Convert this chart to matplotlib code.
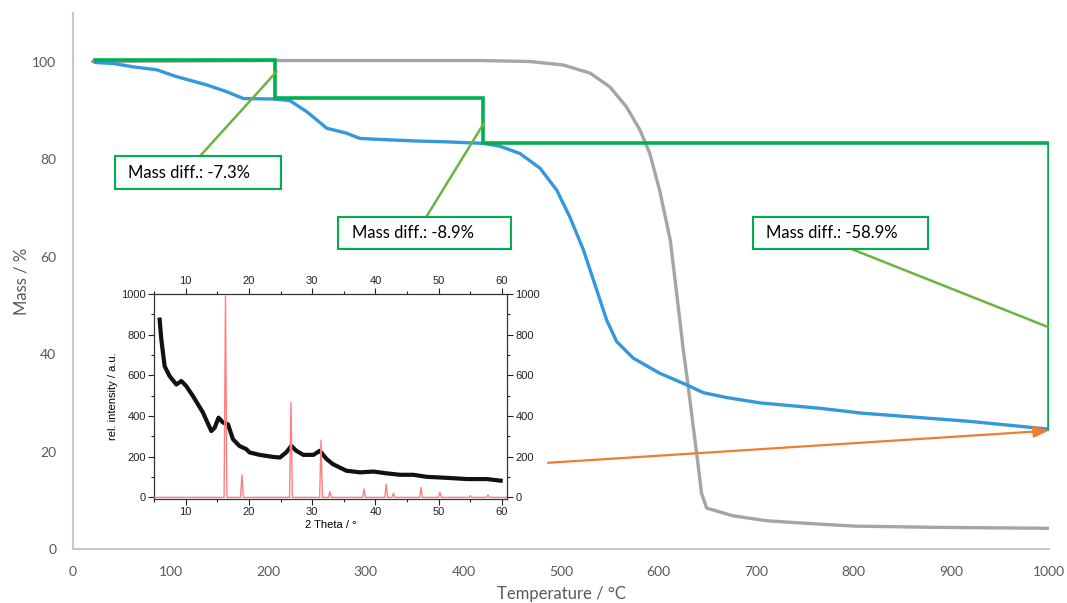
import matplotlib
matplotlib.use("Agg")
import matplotlib.pyplot as plt
from matplotlib.patches import Rectangle
from matplotlib.ticker import MultipleLocator

# ---------------- main TGA data ----------------
temp_sample = [22.5, 41.3, 61.8, 85.8, 106, 137, 157.5, 174.5, 205, 222, 239.5, 260, 280, 294,
               314.5, 348.7, 383, 420, 437.5, 458, 478.5, 495.6, 509, 523, 536.6, 546.8, 557,
               574, 601, 628.8, 645.8, 669.7, 704, 765, 808, 919, 960, 1000]
mass_sample = [99.9, 99.7, 99.0, 98.4, 97.0, 95.3, 93.9, 92.5, 92.4, 92.1, 89.8, 86.4, 85.4, 84.3,
               84.1, 83.8, 83.6, 83.3, 82.7, 81.2, 78.2, 73.7, 68.2, 61.4, 53.2, 47.0, 42.6,
               39.2, 36.1, 33.7, 32.1, 31.1, 30.0, 28.9, 27.9, 26.2, 25.4, 24.6]

temp_ref = [20, 200, 417, 468, 502, 530, 550, 567, 581, 591, 601, 612, 618.5, 625.3, 630.4,
            635.5, 640.7, 644, 649.3, 676.5, 710.7, 765, 801, 882, 1000]
mass_ref = [100.1, 100.3, 100.3, 100.1, 99.4, 97.7, 94.9, 90.8, 86.0, 81.2, 73.7, 63.4, 52.5,
            40.9, 33.3, 25.1, 16.9, 11.4, 8.4, 6.8, 5.8, 5.1, 4.7, 4.45, 4.25]

# step annotation levels
step_temps = [23, 207, 420, 1000]
step_levels = [100.4, 92.6, 83.4, 24.6]
diff_labels = ["Mass diff.: -7.3%", "Mass diff.: -8.9%", "Mass diff.: -58.9%"]

# ---------------- inset XRD data ----------------
theta_meas = [5.89, 6.16, 6.68, 7.47, 8.53, 9.32, 10.1, 11.16, 12.74, 14.06, 14.6, 15.2, 15.9,
              16.7, 17.48, 18.5, 19.6, 20.1, 21.7, 23.8, 24.9, 25.9, 26.7, 27.5, 28.6, 30.2,
              31.2, 32.3, 33.3, 35.4, 37.6, 39.7, 41.8, 43.9, 46.0, 48.1, 51.3, 54.5, 57.6, 59.8]
int_meas = [874, 776, 645, 596, 555, 572, 547, 498, 417, 326, 343, 392, 368,
            359, 286, 253, 237, 221, 209, 199, 196, 221, 253, 229, 209, 209,
            229, 188, 163, 131, 123, 127, 118, 111, 111, 101, 96, 90, 90, 82]

ref_peaks = [16.3, 18.9, 26.65, 31.4, 32.8, 38.2, 41.7, 42.85, 47.2, 50.2, 55.0, 57.8]
ref_heights = [990, 111, 466, 281, 28, 41, 65, 20, 49, 25, 8, 12]

# ---------------- figure ----------------
W, H = 1067, 603
fig = plt.figure(figsize=(W / 100, H / 100), dpi=100)
main_font = "Lato"
grey_txt = "#595959"

ax = fig.add_axes([73 / W, 1 - 549 / H, (1049 - 73) / W, (549 - 13.3) / H])
ax.set_xlim(0, 1000)
ax.set_ylim(0, 110)
ax.set_xticks(range(0, 1001, 100))
ax.set_yticks(range(0, 101, 20))
for s in ["top", "right"]:
    ax.spines[s].set_visible(False)
for s in ["left", "bottom"]:
    ax.spines[s].set_color("#C8C8C8")
    ax.spines[s].set_linewidth(1.5)
ax.tick_params(length=0, pad=12, labelsize=10, labelcolor=grey_txt)
for lab in ax.get_xticklabels() + ax.get_yticklabels():
    lab.set_fontfamily(main_font)
ax.set_xlabel("Temperature / °C", fontsize=12, color=grey_txt, family=main_font, labelpad=6)
ax.set_ylabel("Mass / %", fontsize=12, color=grey_txt, family=main_font, labelpad=2)

ax.plot(temp_ref, mass_ref, color="#A5A5A5", lw=2.4, solid_capstyle="round",
        solid_joinstyle="round", zorder=2)
ax.plot(temp_sample, mass_sample, color="#3498DB", lw=2.4, solid_capstyle="round",
        solid_joinstyle="round", zorder=3)

# green step lines
green = "#00B050"
sx, sy = [], []
for i in range(len(step_temps) - 1):
    sx += [step_temps[i], step_temps[i + 1], step_temps[i + 1]]
    sy += [step_levels[i], step_levels[i], step_levels[i + 1]]
ax.plot(sx, sy, color=green, lw=2.6, zorder=4, solid_joinstyle="miter")

# annotation boxes (data coords): (x0, x1, y_bottom, y_top), leader start, leader end
boxes = [(42.7, 213.4, 73.9, 80.6), (272, 448.5, 61.5, 68.2), (697, 876.3, 61.5, 68.2)]
leaders = [((129.8, 80.6), (208.5, 98.0)),
           ((362, 68.2), (420.9, 87.4)),
           ((798.9, 61.5), (1000, 45.5))]
for (x0, x1, y0, y1), lab, ((lx0, ly0), (lx1, ly1)) in zip(boxes, diff_labels, leaders):
    ax.plot([lx0, lx1], [ly0, ly1], color="#6DB33F", lw=1.8, zorder=5)
    ax.add_patch(Rectangle((x0, y0), x1 - x0, y1 - y0, facecolor="white",
                           edgecolor=green, lw=1.5, zorder=6))
    ax.text(x0 + 13.5, (y0 + y1) / 2, lab, fontsize=12, family=main_font,
            color="black", va="center", ha="left", zorder=7)

# orange arrow
ax.annotate("", xy=(1000, 24.3), xytext=(486.7, 17.7),
            arrowprops=dict(arrowstyle="-|>,head_length=0.9,head_width=0.35",
                            color="#ED7D31", lw=1.6, shrinkA=0, shrinkB=0), zorder=8)

# ---------------- inset ----------------
ax2 = fig.add_axes([154 / W, 1 - 499 / H, (507 - 154) / W, (499 - 294) / H])
ax2.set_facecolor("white")
ax2.set_xlim(5, 60.8)
ax2.set_ylim(-8, 1000)

ax2.plot(theta_meas, int_meas, color="#111111", lw=3.0, zorder=2)

px, py = [5], [0]
for p, h in zip(ref_peaks, ref_heights):
    px += [p - 0.22, p, p + 0.22]
    py += [0, h, 0]
px.append(60.8)
py.append(0)
ax2.plot(px, py, color="#FF7F7F", lw=1.0, zorder=3)

ax2.set_xticks(range(10, 61, 10))
ax2.set_yticks(range(0, 1001, 200))
ax2.xaxis.set_minor_locator(MultipleLocator(5))
ax2.yaxis.set_minor_locator(MultipleLocator(100))
ax2.tick_params(which="both", direction="out", top=True, right=True,
                labeltop=True, labelright=True, labelsize=8, pad=2,
                colors="#222222")
ax2.tick_params(which="major", length=4, width=0.8)
ax2.tick_params(which="minor", length=2.5, width=0.8)
for lab in ax2.get_xticklabels() + ax2.get_yticklabels():
    lab.set_fontfamily("Liberation Sans")
for s in ax2.spines.values():
    s.set_color("#333333")
    s.set_linewidth(0.9)
ax2.set_xlabel("2 Theta / °", fontsize=8, family="Liberation Sans", labelpad=2)
ax2.set_ylabel("rel. intensity / a.u.", fontsize=8, family="Liberation Sans", labelpad=2)

fig.savefig("out.png", dpi=100)
